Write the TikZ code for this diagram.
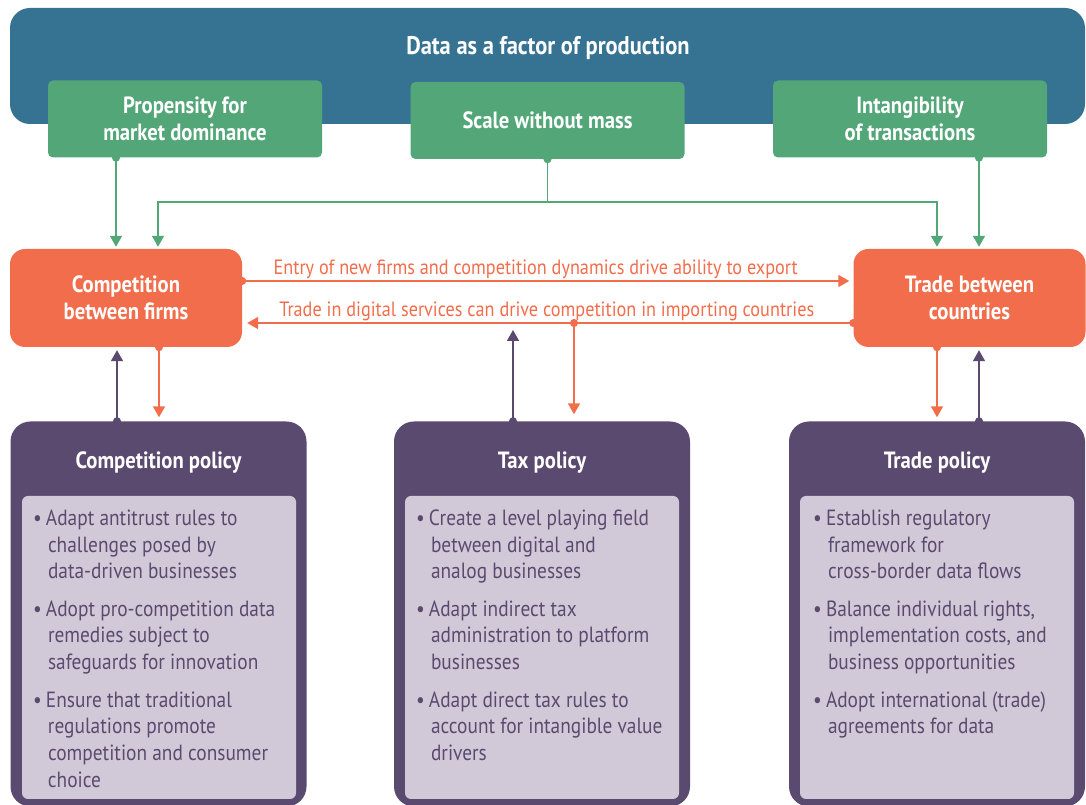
\documentclass[tikz,border=0pt]{standalone}
\usepackage{fontspec}
\setmainfont{PT Sans}[FakeStretch=0.88]
\usetikzlibrary{positioning,arrows.meta,calc}
\definecolor{DataBlue}{RGB}{54,115,147}
\definecolor{FactorGreen}{RGB}{83,166,120}
\definecolor{MarketOrange}{RGB}{242,109,75}
\definecolor{PolicyPurple}{RGB}{91,74,111}
\definecolor{ListLilac}{RGB}{210,201,216}
\newcommand{\listsetup}{\setlength{\parindent}{0pt}\setlength{\parskip}{10.5pt}\raggedright\hyphenpenalty=10000}
\newcommand{\bitem}[1]{\par\hangindent=15pt\hangafter=1\makebox[13pt][l]{\textbullet}#1\par}

\begin{document}
\begin{tikzpicture}[x=1pt,y=1pt, every node/.style={align=center, inner sep=0pt}]
\tikzset{
  factor/.style={fill=FactorGreen, rounded corners=5pt, minimum width=274pt, minimum height=77pt, text=white, font=\bfseries\fontsize{23.5}{26.5}\selectfont},
  market/.style={fill=MarketOrange, rounded corners=15pt, minimum width=232pt, minimum height=98pt, text=white, font=\bfseries\fontsize{23.5}{26.5}\selectfont},
  policy/.style={fill=PolicyPurple, rounded corners=20pt, minimum width=296pt, minimum height=385pt},
  ptitle/.style={text=white, font=\bfseries\fontsize{23.5}{26.5}\selectfont},
  listbox/.style={fill=ListLilac, rounded corners=6pt, minimum width=274pt, minimum height=303pt},
  listtext/.style={anchor=north west, text width=265pt, align=none, text=PolicyPurple, font=\fontsize{22}{26.8}\selectfont},
  gflow/.style={arrows={-Triangle[length=11pt,width=12pt]}, line width=1.6pt, FactorGreen},
  oflow/.style={arrows={-Triangle[length=11pt,width=12pt]}, line width=1.6pt, MarketOrange},
  pflow/.style={arrows={-Triangle[length=11pt,width=12pt]}, line width=1.6pt, PolicyPurple},
  dotstart/.style={arrows={Circle[length=8pt]-Triangle[length=11pt,width=12pt]}, shorten <=-4pt},
  olabel/.style={text=MarketOrange, font=\fontsize{20.7}{24}\selectfont}
}
  \useasboundingbox (0,0) rectangle (1086,805);

  % top band and the three factors
  \node[fill=DataBlue, rounded corners=20pt, minimum width=1075pt, minimum height=116pt] (data) at (547.5,739) {};
  \node[text=white, font=\bfseries\fontsize{25.5}{28}\selectfont] (datatitle) at (548,757) {Data as a factor of production};
  \node[factor] (pmd) at (185,686) {Propensity for\\market dominance};
  \node[factor] (swm) at (547.5,684.5) {Scale without mass};
  \node[factor] (iot) at (910,686) {Intangibility\\of transactions};

  % the two markets
  \node[market] (cbf) at (126,507) {Competition\\between firms};
  \node[market] (tbc) at (969.5,507) {Trade between\\countries};

  % policy boxes
  \node[policy] (cpol) at (158.5,191) {};
  \node[policy] (tpol) at (542,191) {};
  \node[policy] (trpol) at (937,191) {};
  \node[ptitle] (cpoltitle) at (158.5,342) {Competition policy};
  \node[ptitle] (tpoltitle) at (542,342) {Tax policy};
  \node[ptitle] (trpoltitle) at (937,342) {Trade policy};
  \node[listbox] (clist) at (159,157.5) {};
  \node[listbox] (tlist) at (542,157.5) {};
  \node[listbox] (trlist) at (937,157.5) {};

  \node[listtext] (citems) at ([xshift=11pt,yshift=8pt]clist.north west) {\listsetup
    \bitem{Adapt antitrust rules to\newline challenges posed by\newline data-driven businesses}
    \bitem{Adopt pro-competition data\newline remedies subject to\newline safeguards for innovation}
    \bitem{Ensure that traditional\newline regulations promote\newline competition and consumer\newline choice}};
  \node[listtext] (titems) at ([xshift=11pt,yshift=8pt]tlist.north west) {\listsetup
    \bitem{Create a level playing field\newline between digital and\newline analog businesses}
    \bitem{Adapt indirect tax\newline administration to platform\newline businesses}
    \bitem{Adapt direct tax rules to\newline account for intangible value\newline drivers}};
  \node[listtext] (tritems) at ([xshift=13pt,yshift=8pt]trlist.north west) {\listsetup
    \bitem{Establish regulatory\newline framework for\newline cross-border data flows}
    \bitem{Balance individual rights,\newline implementation costs, and\newline business opportunities}
    \bitem{Adopt international (trade)\newline agreements for data}};

  % factors feed the markets
  \coordinate (swmjoin) at (547.5,603);
  \draw[gflow, dotstart, shorten >=2pt] ([xshift=-69pt]pmd.south) -- ([xshift=-69pt]pmd.south |- cbf.north);
  \draw[gflow, dotstart, shorten >=2pt] (swm.south) -- (swmjoin) -| ([xshift=32pt]cbf.north);
  \draw[gflow, shorten >=2pt] (swmjoin) -| ([xshift=-32.5pt]tbc.north);
  \draw[gflow, dotstart, shorten >=2pt] ([xshift=69pt]iot.south) -- ([xshift=69pt]iot.south |- tbc.north);

  % between the markets
  \draw[oflow, dotstart, shorten >=4pt] ([yshift=17pt]cbf.east) -- ([yshift=17pt]cbf.east -| tbc.west)
    node[olabel, midway, above=1.5pt, xshift=-12pt] (entrylbl) {Entry of new firms and competition dynamics drive ability to export};
  \draw[oflow, dotstart, shorten >=5pt] ([yshift=-25pt]tbc.west) -- ([yshift=-25pt]tbc.west -| cbf.east)
    node[olabel, midway, above=1.5pt, xshift=-1pt] (importlbl) {Trade in digital services can drive competition in importing countries};

  % markets and policies
  \coordinate (tdrop) at (574,482);
  \draw[pflow, dotstart, shorten >=3pt] ([xshift=-41.5pt]cpol.north) -- ([xshift=-41.5pt]cpol.north |- cbf.south);
  \draw[oflow, dotstart, shorten >=4pt] ([xshift=33pt]cbf.south) -- ([xshift=33pt]cbf.south |- cpol.north);
  \draw[pflow, dotstart, shorten >=7pt] ([xshift=-29pt]tpol.north) -- ([xshift=-29pt]tpol.north |- tdrop);
  \draw[oflow, dotstart, shorten >=7pt] (tdrop) -- (tdrop |- tpol.north);
  \draw[oflow, dotstart, shorten >=4pt] ([xshift=-32.5pt]tbc.south) -- ([xshift=-32.5pt]tbc.south |- trpol.north);
  \draw[pflow, dotstart, shorten >=3pt] ([xshift=42pt]trpol.north) -- ([xshift=42pt]trpol.north |- tbc.south);
\end{tikzpicture}
\end{document}
